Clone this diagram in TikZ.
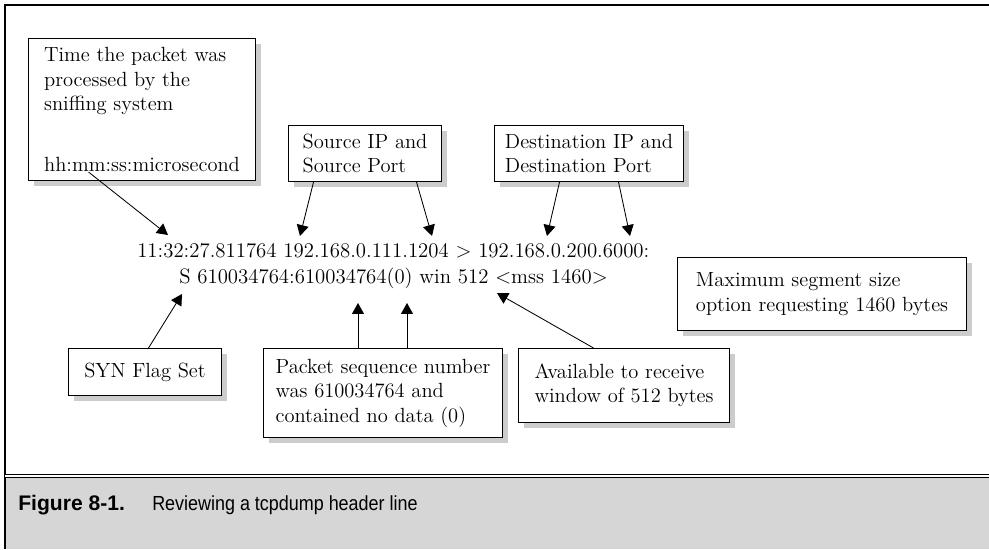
\documentclass[tikz,border=0pt]{standalone}
\usepackage{fontspec}
\usepackage{tikz}
\usetikzlibrary{arrows.meta,shadows,calc}
\newfontfamily\capfont{Liberation Sans}
\newfontfamily\capnarrow[FakeStretch=0.88]{Liberation Sans}
\definecolor{capgray}{RGB}{214,214,214}
\definecolor{shadowgray}{RGB}{204,204,204}
\tikzset{
  note/.style={draw,fill=white,line width=0.7pt,anchor=north west,align=left,inner xsep=4pt,inner ysep=2pt,
    font=\fontsize{14.6}{17.4}\selectfont,
    general shadow={fill=shadowgray,shadow xshift=4pt,shadow yshift=-4pt}},
  hdr/.style={anchor=base west,inner sep=0pt,font=\fontsize{14.8}{18}\selectfont},
  ptr/.style={line width=0.6pt,-{Triangle[length=7.8pt,width=8.5pt]}},
}

\begin{document}
\begin{tikzpicture}[x=0.025cm,y=-0.025cm]
      \useasboundingbox (0,0) rectangle (989,549);
      \fill[capgray] (4,476) rectangle (989,549);
      \draw[line width=1.5pt] (989,5) -- (5,5) -- (5,549);
      \draw[line width=0.7pt,double distance=0.9pt] (5,476) -- (989,476);

      \node[note,minimum width=5.675cm,minimum height=3.55cm] (stamp) at (28,38) {Time the packet was\\processed by the\\sniffing system\\[26pt]hh:mm:ss:microsecond};
      \node[note,minimum width=3.825cm,minimum height=1.4cm] (src) at (288,125) {Source IP and\\Source Port};
      \node[note,minimum width=4.725cm,minimum height=1.4cm] (dst) at (494,125) {Destination IP and\\Destination Port};
      \node[note,minimum width=7.225cm,minimum height=1.825cm] (mss) at (677,257) {Maximum segment size\\option requesting 1460 bytes};
      \node[note,minimum width=3.825cm,minimum height=1.175cm] (syn) at (68,348) {SYN Flag Set};
      \node[note,minimum width=5.975cm,minimum height=2.225cm] (seq) at (263,348) {Packet sequence number\\was 610034764 and\\contained no data (0)};
      \node[note,minimum width=5.275cm,minimum height=1.85cm] (win) at (518,348) {Available to receive\\window of 512 bytes};

      \node[hdr] (line1) at (137,257) {11:32:27.811764 192.168.0.111.1204 > 192.168.0.200.6000:};
      \node[hdr] (line2) at (179,283) {S 610034764:610034764(0) win 512 <mss 1460>};

      \coordinate (tStamp) at (168,235);
      \coordinate (tSrcIP) at (300,236);
      \coordinate (tSrcPort) at (432,236);
      \coordinate (tDstIP) at (547,236);
      \coordinate (tDstPort) at (630,236);
      \coordinate (tFlag) at (182,294);
      \coordinate (tSeq) at (358,303);
      \coordinate (tData) at (407,303);
      \coordinate (tWin) at (497,293);

      \draw[ptr] ($(stamp.south)+(-53.5,-9)$) -- (tStamp);
      \draw[ptr] ($(src.south)+(-51.5,0)$) -- (tSrcIP);
      \draw[ptr] ($(src.south)+(51.5,0)$) -- (tSrcPort);
      \draw[ptr] ($(dst.south)+(-29.5,0)$) -- (tDstIP);
      \draw[ptr] ($(dst.south)+(29.5,0)$) -- (tDstPort);
      \draw[ptr] ($(syn.north)+(3.5,0)$) -- (tFlag);
      \draw[ptr] (tSeq |- seq.north) -- (tSeq);
      \draw[ptr] (tData |- seq.north) -- (tData);
      \draw[ptr] ($(win.north)+(-30.5,0)$) -- (tWin);

      \node[anchor=base west,inner sep=0pt,font=\capfont\bfseries\fontsize{15}{17}\selectfont] (fignum) at (18,510) {Figure 8-1.};
      \node[anchor=base west,inner sep=0pt,font=\capnarrow\fontsize{14.5}{17}\selectfont] (figcap) at (152,510) {Reviewing a tcpdump header line};
\end{tikzpicture}
\end{document}
